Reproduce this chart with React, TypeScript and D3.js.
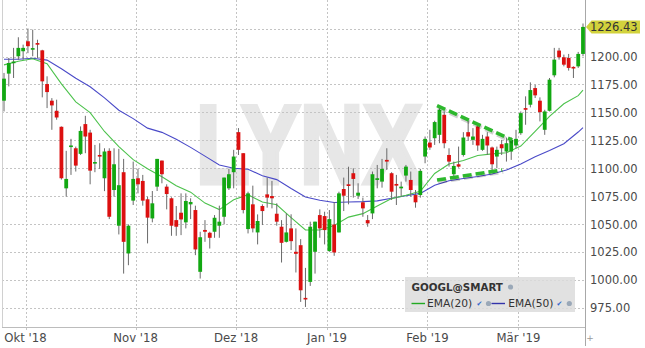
import React from "react";
import * as d3 from "d3";

// ---- Data (GOOGL daily candles, 24 Sep 2018 – 20 Mar 2019) ----
const opens = [
  1160.5, 1184.7, 1194.0, 1200.2, 1204.7, 1213.6, 1206.5, 1212, 1205.5, 1175.4,
  1160.5, 1151.5, 1137.2, 1082.2, 1119.3, 1118, 1113, 1139.6, 1132, 1104.5,
  1112, 1091.2, 1115.7, 1080.7, 1048.8, 1096.6, 1024, 1071.2, 1091.2, 1088.8,
  1072.4, 1055.3, 1083.7, 1107, 1083.7, 1073.3, 1053.8, 1060.4, 1051.8, 1067.9,
  1062.8, 1007.6, 1045, 1042.5, 1043.4, 1048.8, 1056.8, 1082.2, 1096.6, 1132.4,
  1113.6, 1045.8, 1067.9, 1042.8, 1066.4, 1076.8, 1075.3, 1059.5, 1047.9, 1034.4,
  1046.4, 1025.5, 1031.4, 984.3, 998.6, 1025.5, 1058.3, 1057.4, 1026.1, 1049.9,
  1042.8, 1081.6, 1085.8, 1095.7, 1075.6, 1069.7, 1053.8, 1059.8, 1089.7, 1088.2,
  1107.6, 1095.7, 1086.1, 1082.2, 1093.6, 1089.7, 1076.2, 1076.2, 1110.6, 1123.1,
  1127, 1130, 1147.9, 1112, 1094.8, 1103.7, 1112, 1132.4, 1125.5, 1137.5,
  1116.6, 1128.5, 1118.7, 1110.6, 1121.6, 1115.1, 1115.1, 1120.5, 1131.5, 1153.9,
  1156.9, 1171.8, 1160.5, 1134.5, 1151.5, 1183.2, 1205.3, 1199.3, 1198.7, 1190.7,
  1191.2, 1202.3,
];
const highs = [
  1185.3, 1198.7, 1207.7, 1217.2, 1210.6, 1225, 1224, 1215, 1206, 1182.3,
  1162.8, 1161.4, 1137.5, 1115.7, 1126.4, 1119.5, 1137.5, 1147, 1134.5, 1121,
  1122.5, 1118, 1118, 1118, 1117.5, 1108.5, 1050, 1106.1, 1099.6, 1094.2,
  1074.8, 1079.8, 1108.5, 1107, 1085.8, 1074.2, 1066.4, 1077.7, 1077.7, 1073.3,
  1066.7, 1043.4, 1053.8, 1043.4, 1058.3, 1066.7, 1091.8, 1099.6, 1116.6, 1136,
  1113.6, 1079.2, 1084.6, 1058.9, 1067.9, 1091.8, 1088.8, 1068.8, 1053.8, 1059.8,
  1059, 1046.4, 1036.8, 1011.1, 1052.4, 1052.4, 1063.4, 1061.3, 1062.8, 1070,
  1079.2, 1091.8, 1101.5, 1100.1, 1086.7, 1073.9, 1058.3, 1097.2, 1103.1, 1108.5,
  1118, 1096.6, 1094.2, 1088.2, 1103.1, 1097.2, 1080.7, 1099.6, 1128.5, 1134.5,
  1142.6, 1155.4, 1150.9, 1118, 1106.1, 1119.5, 1132.4, 1142.6, 1136, 1139,
  1130, 1132.4, 1119.5, 1119.5, 1125.5, 1127.6, 1127.6, 1134.5, 1150.9, 1164.4,
  1176.9, 1174.8, 1163.5, 1152.4, 1180.8, 1207.7, 1207.7, 1201.7, 1202.3, 1191.2,
  1204.1, 1229.5,
];
const lows = [
  1150.9, 1173.3, 1180.8, 1197.2, 1197.2, 1203, 1200.2, 1198.7, 1163.5, 1153.9,
  1134.5, 1143.5, 1090, 1074.8, 1094.2, 1097.2, 1112, 1113.6, 1085.8, 1096.6,
  1099.6, 1079.7, 1054.7, 1074.8, 1041, 1006, 1013.5, 1067.3, 1077.7, 1066.7,
  1033, 1051.8, 1079.8, 1086.7, 1063.4, 1039.8, 1039.8, 1040.4, 1046.4, 1054.7,
  1022.5, 1001.6, 1034.4, 1028.4, 1038, 1038, 1050, 1080.7, 1082.2, 1112,
  1059.8, 1041.9, 1042.8, 1032.1, 1049.4, 1064.9, 1064.3, 1048.8, 1015.9, 1033.8,
  1027, 1007, 980.7, 976.2, 995, 1006, 1038, 1032.1, 1025.5, 1021.9,
  1042.8, 1061.9, 1067.9, 1073.9, 1072.7, 1056.8, 1047.9, 1054.7, 1082.2, 1082.8,
  1098.6, 1071.8, 1067.3, 1074.8, 1088.2, 1074.8, 1064.9, 1073.9, 1104.6, 1116.6,
  1121, 1122.5, 1118, 1101.6, 1092.7, 1100.7, 1110.6, 1124.6, 1121, 1115.7,
  1115.7, 1112, 1097.2, 1100.1, 1112, 1106.1, 1107.6, 1118, 1130, 1139,
  1154.5, 1162.9, 1142, 1130, 1150.9, 1181.4, 1197.2, 1191.2, 1187.4, 1180.8,
  1189.8, 1200.2,
];
const closes = [
  1180.2, 1194.2, 1195.5, 1207.7, 1207.7, 1209.2, 1207.5, 1210.6, 1177.8, 1168.2,
  1156.3, 1145.5, 1091.2, 1090.6, 1120.5, 1102.5, 1133.5, 1128.5, 1098, 1105.7,
  1110.8, 1115.1, 1056.8, 1103.7, 1085, 1034.4, 1048.8, 1090.6, 1085.8, 1071.2,
  1056, 1068.8, 1108.5, 1094.8, 1077.1, 1048.8, 1047.9, 1054.4, 1070.9, 1070,
  1027.6, 1038.5, 1043.4, 1038, 1055.9, 1052.4, 1091.8, 1094.8, 1110.6, 1116.6,
  1062.8, 1077.7, 1046.4, 1053, 1061.9, 1073.9, 1073.3, 1052.4, 1033.5, 1042.8,
  1035, 1023.7, 991.1, 983, 1047.9, 1052.4, 1046.4, 1044.9, 1054.7, 1024.9,
  1077.7, 1075.6, 1084.3, 1090.6, 1078.3, 1064.3, 1050.9, 1094.8, 1091.2, 1099.6,
  1106.1, 1079.2, 1084.6, 1083.7, 1101.6, 1080.7, 1069.7, 1097.8, 1126.4, 1118.7,
  1141.4, 1152.4, 1122.5, 1106.1, 1102.2, 1101.6, 1127.6, 1128.5, 1128.5, 1120.5,
  1126.4, 1120.5, 1103.7, 1116.6, 1118, 1122.5, 1125.5, 1126.4, 1149.4, 1152.4,
  1170, 1165.3, 1150.3, 1150.9, 1179.3, 1197.2, 1199.3, 1192.7, 1189.8, 1189.8,
  1202.3, 1226.43,
];

// EMA readings (sampled at these candle indices)
const emaIdx = [
  0, 3, 6, 9, 12, 15, 18, 21, 24, 27, 30, 33, 36, 39, 42, 45, 48, 51, 54, 57,
  60, 63, 66, 69, 72, 75, 78, 81, 84, 87, 90, 93, 96, 99, 102, 105, 108, 111,
  114, 117, 120, 121,
];
const ema20 = [
  1192.5, 1195.8, 1198, 1193.5, 1175.5, 1159.5, 1149.8, 1133, 1119.5, 1107.8,
  1099.7, 1092.5, 1084.5, 1078.8, 1069, 1063.2, 1072, 1076.5, 1069.9, 1067.5,
  1056, 1045, 1045, 1049, 1056.5, 1059.6, 1066.5, 1073, 1076, 1079.5, 1095.5,
  1104, 1107, 1111.5, 1113, 1114, 1120, 1133, 1146.5, 1157.8, 1165, 1170,
];
const ema50 = [
  1197.5, 1197.5, 1198.4, 1196.8, 1189, 1180.5, 1173, 1163, 1152, 1144.5, 1136,
  1132.2, 1126, 1118.8, 1111, 1103, 1100.2, 1099.3, 1093.5, 1090, 1082, 1074.5,
  1071.5, 1069.5, 1070, 1070.3, 1071, 1073.3, 1075.5, 1077.7, 1085, 1089, 1091,
  1092.7, 1095, 1098.5, 1104, 1110.5, 1116, 1122, 1132.5, 1136.5,
];

// Month boundaries: index of first trading day of each month
const monthStart = [5, 28, 49, 68, 89, 108];
const monthLabels = ["Okt '18", "Nov '18", "Dez '18", "Jan '19", "Feb '19", "Mär '19"];
const yTicks = [975, 1000, 1025, 1050, 1075, 1100, 1125, 1150, 1175, 1200];
const yGrid = [975, 1000, 1025, 1050, 1075, 1100, 1125, 1150, 1175, 1200, 1225];
const lastPrice = 1226.43;

// Triangle trendlines: [index, price] endpoints
const upperTrend = [[90.5, 1156.2], [106.2, 1125.4]];
const lowerTrend = [[90.5, 1089.6], [104.1, 1098.6]];

const FONT = "'DejaVu Sans', Verdana, sans-serif";

export default function App() {
  const W = 645;
  const H = 348;
  const x = d3.scaleLinear().domain([0, 121]).range([4, 583]);
  const y = d3.scaleLinear().domain([975, 1200]).range([308.3, 56.5]);
  const plotL = 2;
  const plotR = 585.5;
  const plotB = 327.5;

  const emaLine = d3
    .line<number>()
    .x((_, i) => x(emaIdx[i]))
    .y((d) => y(d));

  const trendLine = d3
    .line<number[]>()
    .x((d) => x(d[0]))
    .y((d) => y(d[1]));

  const green = "#12a812";
  const red = "#dc1010";
  const bw = 3.8;

  return (
    <div style={{ position: "fixed", left: 0, top: 0, width: W, height: H, background: "#fff" }}>
      <svg width={W} height={H} style={{ display: "block" }} fontFamily={FONT}>
        <rect x={0} y={0} width={W} height={H} fill="#fff" />
        {/* Watermark */}
        <text
          x={196}
          y={183}
          fontSize={112}
          fontWeight="bold"
          fontFamily="'Liberation Sans', Arial, sans-serif"
          fill="#e7e7e7"
          stroke="#e7e7e7"
          strokeWidth={5}
          strokeLinejoin="miter"
          textLength={226}
          lengthAdjust="spacingAndGlyphs"
        >
          LYNX
        </text>

        {/* Horizontal grid */}
        {yGrid.map((v) => (
          <line
            key={"h" + v}
            x1={plotL}
            x2={plotR}
            y1={Math.round(y(v)) + 0.5}
            y2={Math.round(y(v)) + 0.5}
            stroke="#c4c4c4"
            strokeDasharray="2,2"
          />
        ))}
        {/* Vertical month grid */}
        {monthStart.map((m) => (
          <line
            key={"v" + m}
            x1={Math.round(x(m - 0.5)) + 0.5}
            x2={Math.round(x(m - 0.5)) + 0.5}
            y1={0}
            y2={331}
            stroke="#c4c4c4"
            strokeDasharray="2,2"
          />
        ))}

        {/* Frame */}
        <line x1={plotL + 0.5} x2={plotL + 0.5} y1={0} y2={plotB} stroke="#d0d0d0" />
        <line x1={plotL} x2={plotR} y1={plotB} y2={plotB} stroke="#bcbcbc" />
        <line x1={plotR} x2={plotR} y1={0} y2={346} stroke="#a8a8a8" />

        {/* EMA lines */}
        <path d={emaLine(ema50) || ""} fill="none" stroke="#4a4ac8" strokeWidth={1.1} />
        <path d={emaLine(ema20) || ""} fill="none" stroke="#4cc24c" strokeWidth={1.1} />

        {/* Candles */}
        {opens.map((o, i) => {
          const c = closes[i];
          const up = c >= o;
          const cx = x(i);
          const top = y(Math.max(o, c));
          const bot = y(Math.min(o, c));
          const h = Math.max(1.6, bot - top);
          return (
            <g key={"c" + i}>
              <line x1={cx} x2={cx} y1={y(highs[i])} y2={y(lows[i])} stroke="#6a6a6a" strokeWidth={1} />
              <rect x={cx - bw / 2} y={top} width={bw} height={h} fill={up ? green : red} />
            </g>
          );
        })}

        {/* Trendlines with shadow */}
        {[upperTrend, lowerTrend].map((t, k) => (
          <g key={"t" + k}>
            <path
              d={trendLine(t) || ""}
              transform="translate(1,2)"
              stroke="#000"
              strokeOpacity={0.18}
              strokeWidth={4}
              strokeDasharray="9,4"
              fill="none"
            />
            <path d={trendLine(t) || ""} stroke="#2db82d" strokeWidth={3.6} strokeDasharray="9,4" fill="none" />
          </g>
        ))}

        {/* Y labels */}
        {yTicks.map((v) => (
          <text key={"yl" + v} x={590} y={y(v)} dy="0.36em" fontSize={11.5} fill="#4a4a4a">
            {v.toFixed(2)}
          </text>
        ))}
        {/* Last price tag */}
        <path
          d={`M${plotR + 0.5},${y(lastPrice)} L${plotR + 6},${y(lastPrice) - 6.5} L640,${y(lastPrice) - 6.5} L640,${y(lastPrice) + 6.5} L${plotR + 6},${y(lastPrice) + 6.5} Z`}
          fill="#d2d23c"
        />
        <text x={590} y={y(lastPrice)} dy="0.36em" fontSize={11.5} fill="#333">
          {lastPrice.toFixed(2)}
        </text>

        {/* X labels */}
        {monthStart.map((m, k) => (
          <text key={"xl" + m} x={x(m - 0.5)} y={342} textAnchor="middle" fontSize={11.7} fill="#4a4a4a">
            {monthLabels[k]}
          </text>
        ))}
        <text x={590} y={341} textAnchor="middle" fontSize={9} fill="#999">
          +
        </text>

        {/* Legend */}
        <rect x={405} y={277} width={170} height={35} fill="#dcdcdc" fillOpacity={0.85} />
        <text x={411.5} y={290.5} fontSize={10.3} fontWeight="bold" fill="#333">
          GOOGL@SMART
        </text>
        <circle cx={510.5} cy={287} r={2.6} fill="#9aa8b8" />
        <line x1={411.5} x2={425} y1={303.5} y2={303.5} stroke="#22aa22" strokeWidth={1.4} />
        <text x={427} y={306.7} fontSize={10.7} fill="#333">
          EMA(20)
        </text>
        <text x={476.5} y={306} fontSize={7} fill="#3366cc">
          ✔
        </text>
        <circle cx={488.5} cy={303.5} r={2.6} fill="#9aa8b8" />
        <line x1={491.5} x2={505} y1={303.5} y2={303.5} stroke="#3333aa" strokeWidth={1.4} />
        <text x={508.3} y={306.7} fontSize={10.7} fill="#333">
          EMA(50)
        </text>
        <text x={556.5} y={306} fontSize={7} fill="#3366cc">
          ✔
        </text>
        <circle cx={569.3} cy={303.5} r={2.6} fill="#9aa8b8" />
      </svg>
    </div>
  );
}
